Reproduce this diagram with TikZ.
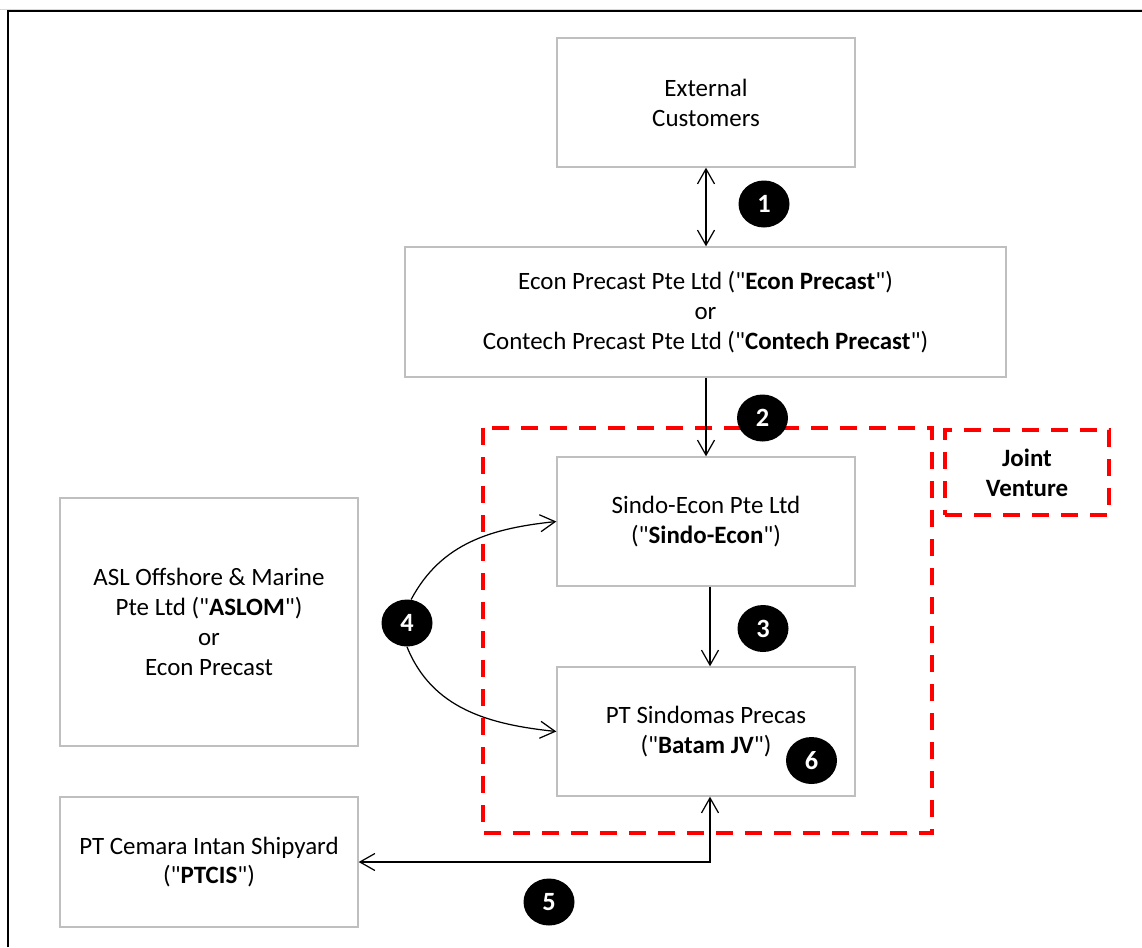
\documentclass[tikz,border=0pt]{standalone}
\usepackage{fontspec}
\setmainfont{Carlito}
\usetikzlibrary{positioning,arrows.meta,shapes.geometric}
\definecolor{boxGray}{RGB}{191,191,191}
\definecolor{jvRed}{RGB}{255,0,0}
\tikzstyle{pixelGrid} = [x=0.02cm, y=-0.02cm]
\tikzstyle{entityBox} = [draw=boxGray, line width=0.8pt, fill=white, inner sep=0pt, align=center, font=\fontsize{14.2}{17}\selectfont]
\tikzstyle{stepMarker} = [ellipse, fill=black, inner sep=0pt, minimum width=1.02cm, minimum height=0.94cm, text=white, font=\bfseries\fontsize{15}{17}\selectfont]
\tikzstyle{flowArrow} = [line width=0.7pt, -{Straight Barb[length=0.3cm, width=0.34cm]}]
\tikzstyle{twoWayArrow} = [line width=0.7pt, {Straight Barb[length=0.3cm, width=0.34cm]}-{Straight Barb[length=0.3cm, width=0.34cm]}]
\tikzstyle{jointVentureLine} = [draw=jvRed, line width=2.3pt, dash pattern=on 0.34cm off 0.24cm]
\tikzstyle{jointVentureText} = [align=center, font=\bfseries\fontsize{14.2}{17}\selectfont]
\newcommand{\quotedName}[1]{(\textquotedbl\textbf{#1}\textquotedbl)}
\newcommand{\companyBox}[5]{\node [entityBox, minimum width=#3, minimum height=#4] (#1) at (#2) {#5};}
\newcommand{\stepMarkerAt}[3]{\node [stepMarker] (#1) at (#2) {#3};}

\begin{document}
\begin{tikzpicture}[pixelGrid]
  \useasboundingbox (0,0) rectangle (1142,947);
  \draw [boxGray!60, line width=.5pt] (0,9) -- (1142,9);
  \draw [line width=1.2pt] (8,947) -- (8,11) -- (1142,11);

  % joint venture
  \draw [jointVentureLine] (483,428) rectangle (932,833);
  \node [jointVentureLine, jointVentureText, minimum width=3.28cm, minimum height=1.7cm] (jvLabel) at (1027,472.5) {Joint\\Venture};

  \companyBox{customers}{706,102.5}{5.96cm}{2.58cm}{External\\Customers}
  \companyBox{econ}{705.5,312}{12.02cm}{2.6cm}{Econ Precast Pte Ltd \quotedName{Econ Precast}\\or\\Contech Precast Pte Ltd \quotedName{Contech Precast}}
  \companyBox{sindoEcon}{706,521.5}{5.96cm}{2.58cm}{Sindo-Econ Pte Ltd\\\quotedName{Sindo-Econ}}
  \companyBox{batamJV}{706,731.5}{5.96cm}{2.58cm}{PT Sindomas Precas\\\quotedName{Batam JV}}
  \companyBox{aslom}{209,622}{5.96cm}{4.96cm}{ASL Offshore \& Marine\\Pte Ltd \quotedName{ASLOM}\\or\\Econ Precast}
  \companyBox{ptcis}{209,862}{5.96cm}{2.6cm}{PT Cemara Intan Shipyard\\\quotedName{PTCIS}}

  \stepMarkerAt{stepOne}{764,204}{1}
  \stepMarkerAt{stepTwo}{762.5,418}{2}
  \stepMarkerAt{stepThree}{763,628.5}{3}
  \stepMarkerAt{stepFour}{407,623}{4}
  \stepMarkerAt{stepFive}{549,902}{5}
  \stepMarkerAt{stepSix}{811.5,760.5}{6}

  \draw [twoWayArrow] (customers.south) -- (customers.south |- econ.north);
  \draw [flowArrow] (sindoEcon.north |- econ.south) -- (sindoEcon.north);
  \draw [flowArrow] ([xshift=.08cm]sindoEcon.south) -- ([xshift=.08cm]batamJV.north);
  \draw [flowArrow] (stepFour.80) to [out=62, in=186] (sindoEcon.west);
  \draw [flowArrow] (stepFour.south) to [out=-68, in=174] (batamJV.west);
  \draw [twoWayArrow] (ptcis.east) -| ([xshift=.08cm]batamJV.south);
\end{tikzpicture}
\end{document}
